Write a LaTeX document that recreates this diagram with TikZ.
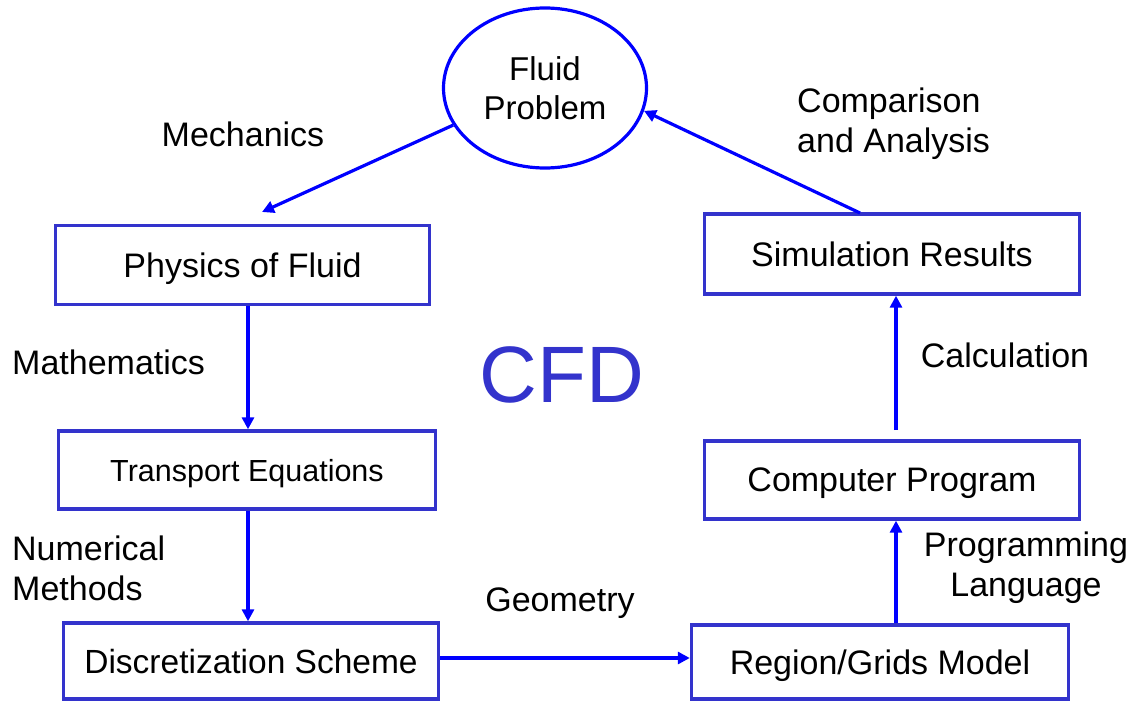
\documentclass[tikz,border=0pt]{standalone}
\usepackage{fontspec}
\setmainfont{Liberation Sans}
\usetikzlibrary{shapes.geometric,arrows.meta,calc}
\definecolor{boxblue}{HTML}{3333CC}
\definecolor{arrblue}{HTML}{0000FF}
\tikzset{
  stepbox/.style={draw=boxblue, line width=3.4pt, rectangle, inner sep=0pt, fill=white,
    font=\fontsize{34}{38}\selectfont, text depth=0pt},
  flowarrow/.style={draw=arrblue, line width=3.2pt, -{Triangle[length=12pt,width=12pt]}},
  lbl/.style={font=\fontsize{34}{40}\selectfont, inner sep=0pt},
}
\begin{document}
\begin{tikzpicture}[x=1pt,y=-1pt]
\useasboundingbox (0,0) rectangle (1140,704);
\node[ellipse, draw=arrblue, line width=3.2pt, minimum width=203pt, minimum height=160pt, inner sep=0pt,
  align=center, font=\fontsize{33}{39}\selectfont] (fluid) at (545,88) {Fluid\\Problem};
\node[stepbox, minimum width=374pt, minimum height=79pt] (phys) at (242.5,265) {Physics of Fluid};
\node[stepbox, minimum width=377pt, minimum height=78pt, font=\fontsize{30.5}{36}\selectfont] (trans) at (247,470) {Transport Equations};
\node[stepbox, minimum width=375pt, minimum height=76pt, font=\fontsize{33.5}{38}\selectfont] (disc) at (251,661) {Discretization Scheme};
\node[stepbox, minimum width=377pt, minimum height=74pt] (region) at (880,662) {Region/Grids Model};
\node[stepbox, minimum width=375pt, minimum height=78pt] (comp) at (892,480) {Computer Program};
\node[stepbox, minimum width=375pt, minimum height=80pt] (sim) at (892,254) {Simulation Results};

\node[lbl] (mech) at (243,134) {Mechanics};
\node[lbl, anchor=west] (math) at (12,362) {Mathematics};
\node[lbl, anchor=west, align=left] (num) at (12,568) {Numerical\\Methods};
\node[lbl] (geom) at (560,603) {Geometry};
\node[lbl, align=center] (prog) at (1026,568) {Programming\\Language};
\node[lbl] (calc) at (1005,355) {Calculation};
\node[lbl, anchor=west, align=left] (comparison) at (797,124) {Comparison\\and Analysis};
\node[font=\fontsize{80}{90}\selectfont, text=boxblue, inner sep=0pt] (cfd) at (562,375) {CFD};

\coordinate (mechend) at (262,212);
\coordinate (compstart) at (896,430);
\coordinate (simstart) at (860,213);

\draw[flowarrow] (fluid.202) -- (mechend);
\draw[flowarrow] (phys.south -| 248,0) -- (trans.north -| 248,0);
\draw[flowarrow] (trans.south -| 248,0) -- (disc.north -| 248,0);
\draw[flowarrow] (disc.east |- 0,658) -- (region.west |- 0,658);
\draw[flowarrow] (region.north -| 896,0) -- (comp.south -| 896,0);
\draw[flowarrow] (compstart) -- (sim.south -| compstart);
\draw[flowarrow] (simstart) -- (fluid.347);
\end{tikzpicture}
\end{document}
